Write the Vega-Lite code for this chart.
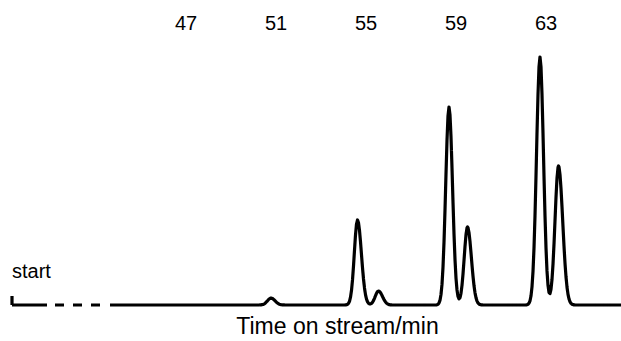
{
  "$schema": "https://vega.github.io/schema/vega-lite/v6.json",
  "width": 621,
  "height": 341,
  "padding": 0,
  "autosize": {"type": "none"},
  "background": "white",
  "config": {"view": {"stroke": null}},
  "datasets": {
    "trace": [
      {"seg":"start","t":39.2667,"v":9},{"seg":"start","t":39.2667,"v":0},{"seg":"start","t":40.8222,"v":0},
      {"seg":"dash","t":41.1778,"v":0},{"seg":"dash","t":43.1778,"v":0},
      {"seg":"main","t":43.6222,"v":0},
      {"seg":"main","t":50.2444,"v":0},{"seg":"main","t":50.3333,"v":0.12},{"seg":"main","t":50.4222,"v":0.51},{"seg":"main","t":50.5111,"v":1.61},{"seg":"main","t":50.6,"v":3.64},{"seg":"main","t":50.6889,"v":5.94},{"seg":"main","t":50.7778,"v":7},{"seg":"main","t":50.8667,"v":6.17},{"seg":"main","t":50.9556,"v":4.25},{"seg":"main","t":51.0444,"v":2.28},{"seg":"main","t":51.1333,"v":0.95},{"seg":"main","t":51.2222,"v":0.31},{"seg":"main","t":51.3111,"v":0.08},{"seg":"main","t":51.4,"v":0},
      {"seg":"main","t":54.0444,"v":0},{"seg":"main","t":54.0889,"v":0.07},{"seg":"main","t":54.1333,"v":0.23},{"seg":"main","t":54.1778,"v":0.65},{"seg":"main","t":54.2222,"v":1.63},{"seg":"main","t":54.2667,"v":3.73},{"seg":"main","t":54.3111,"v":7.77},{"seg":"main","t":54.3556,"v":14.62},{"seg":"main","t":54.4,"v":25.08},{"seg":"main","t":54.4444,"v":38.93},{"seg":"main","t":54.4889,"v":54.74},{"seg":"main","t":54.5333,"v":69.96},{"seg":"main","t":54.5778,"v":80.92},{"seg":"main","t":54.6222,"v":85},{"seg":"main","t":54.6667,"v":82.28},{"seg":"main","t":54.7111,"v":74.55},{"seg":"main","t":54.7556,"v":63.24},{"seg":"main","t":54.8,"v":50.24},{"seg":"main","t":54.8444,"v":37.4},{"seg":"main","t":54.8889,"v":26.01},{"seg":"main","t":54.9333,"v":17.0},{"seg":"main","t":54.9778,"v":10.37},{"seg":"main","t":55.0222,"v":5.94},{"seg":"main","t":55.0667,"v":3.23},{"seg":"main","t":55.1111,"v":1.73},{"seg":"main","t":55.1556,"v":1.09},{"seg":"main","t":55.2,"v":1.07},{"seg":"main","t":55.2444,"v":1.61},{"seg":"main","t":55.2889,"v":2.73},{"seg":"main","t":55.3333,"v":4.44},{"seg":"main","t":55.3778,"v":6.72},{"seg":"main","t":55.4222,"v":9.27},{"seg":"main","t":55.4667,"v":11.65},{"seg":"main","t":55.5111,"v":13.37},{"seg":"main","t":55.5556,"v":14},{"seg":"main","t":55.6,"v":13.57},{"seg":"main","t":55.6444,"v":12.35},{"seg":"main","t":55.6889,"v":10.57},{"seg":"main","t":55.7333,"v":8.5},{"seg":"main","t":55.7778,"v":6.41},{"seg":"main","t":55.8222,"v":4.55},{"seg":"main","t":55.8667,"v":3.02},{"seg":"main","t":55.9111,"v":1.89},{"seg":"main","t":55.9556,"v":1.11},{"seg":"main","t":56.0,"v":0.61},{"seg":"main","t":56.0444,"v":0.32},{"seg":"main","t":56.0889,"v":0.16},{"seg":"main","t":56.1333,"v":0.07},{"seg":"main","t":56.1778,"v":0},
      {"seg":"main","t":58.1111,"v":0},{"seg":"main","t":58.1556,"v":0.27},{"seg":"main","t":58.2,"v":0.76},{"seg":"main","t":58.2444,"v":2.0},{"seg":"main","t":58.2889,"v":4.81},{"seg":"main","t":58.3333,"v":10.49},{"seg":"main","t":58.3778,"v":20.79},{"seg":"main","t":58.4222,"v":37.82},{"seg":"main","t":58.4667,"v":62.77},{"seg":"main","t":58.5111,"v":95.04},{"seg":"main","t":58.5556,"v":131.08},{"seg":"main","t":58.6,"v":164.74},{"seg":"main","t":58.6444,"v":189.09},{"seg":"main","t":58.6889,"v":198},{"seg":"main","t":58.7333,"v":190.08},{"seg":"main","t":58.7778,"v":168.1},{"seg":"main","t":58.8222,"v":137.21},{"seg":"main","t":58.8667,"v":102.96},{"seg":"main","t":58.9111,"v":71.28},{"seg":"main","t":58.9556,"v":45.6},{"seg":"main","t":59.0,"v":26.91},{"seg":"main","t":59.0444,"v":15.02},{"seg":"main","t":59.0889,"v":8.51},{"seg":"main","t":59.1333,"v":6.18},{"seg":"main","t":59.1778,"v":7.32},{"seg":"main","t":59.2222,"v":11.76},{"seg":"main","t":59.2667,"v":19.63},{"seg":"main","t":59.3111,"v":30.78},{"seg":"main","t":59.3556,"v":44.45},{"seg":"main","t":59.4,"v":58.54},{"seg":"main","t":59.4444,"v":70.35},{"seg":"main","t":59.4889,"v":77.11},{"seg":"main","t":59.5111,"v":78},{"seg":"main","t":59.5333,"v":77.36},{"seg":"main","t":59.5778,"v":72.44},{"seg":"main","t":59.6222,"v":63.52},{"seg":"main","t":59.6667,"v":52.14},{"seg":"main","t":59.7111,"v":40.08},{"seg":"main","t":59.7556,"v":28.86},{"seg":"main","t":59.8,"v":19.43},{"seg":"main","t":59.8444,"v":12.28},{"seg":"main","t":59.8889,"v":7.25},{"seg":"main","t":59.9333,"v":4.02},{"seg":"main","t":59.9778,"v":2.08},{"seg":"main","t":60.0222,"v":1.01},{"seg":"main","t":60.0667,"v":0.46},{"seg":"main","t":60.1111,"v":0.2},{"seg":"main","t":60.1556,"v":0.08},{"seg":"main","t":60.2,"v":0},
      {"seg":"main","t":62.1111,"v":0},{"seg":"main","t":62.1556,"v":0.25},{"seg":"main","t":62.2,"v":0.69},{"seg":"main","t":62.2444,"v":1.78},{"seg":"main","t":62.2889,"v":4.19},{"seg":"main","t":62.3333,"v":9.1},{"seg":"main","t":62.3778,"v":18.2},{"seg":"main","t":62.4222,"v":33.48},{"seg":"main","t":62.4667,"v":57.04},{"seg":"main","t":62.5111,"v":89.28},{"seg":"main","t":62.5556,"v":128.96},{"seg":"main","t":62.6,"v":171.86},{"seg":"main","t":62.6444,"v":210.55},{"seg":"main","t":62.6889,"v":238.08},{"seg":"main","t":62.7333,"v":248},{"seg":"main","t":62.7778,"v":238.08},{"seg":"main","t":62.8222,"v":210.55},{"seg":"main","t":62.8667,"v":171.86},{"seg":"main","t":62.9111,"v":128.96},{"seg":"main","t":62.9556,"v":89.36},{"seg":"main","t":63.0,"v":57.28},{"seg":"main","t":63.0444,"v":34.11},{"seg":"main","t":63.0889,"v":19.74},{"seg":"main","t":63.1333,"v":12.59},{"seg":"main","t":63.1778,"v":11.47},{"seg":"main","t":63.2222,"v":15.78},{"seg":"main","t":63.2667,"v":25.47},{"seg":"main","t":63.3111,"v":40.69},{"seg":"main","t":63.3556,"v":60.83},{"seg":"main","t":63.4,"v":84.31},{"seg":"main","t":63.4444,"v":107.7},{"seg":"main","t":63.4889,"v":126.81},{"seg":"main","t":63.5333,"v":137.58},{"seg":"main","t":63.5556,"v":139},{"seg":"main","t":63.5778,"v":138.01},{"seg":"main","t":63.6222,"v":130.41},{"seg":"main","t":63.6667,"v":116.43},{"seg":"main","t":63.7111,"v":98.23},{"seg":"main","t":63.7556,"v":78.3},{"seg":"main","t":63.8,"v":58.98},{"seg":"main","t":63.8444,"v":41.96},{"seg":"main","t":63.8889,"v":28.23},{"seg":"main","t":63.9333,"v":17.93},{"seg":"main","t":63.9778,"v":10.76},{"seg":"main","t":64.0222,"v":6.1},{"seg":"main","t":64.0667,"v":3.27},{"seg":"main","t":64.1111,"v":1.66},{"seg":"main","t":64.1556,"v":0.79},{"seg":"main","t":64.2,"v":0.36},{"seg":"main","t":64.2444,"v":0.15},{"seg":"main","t":64.2889,"v":0.06},{"seg":"main","t":64.3333,"v":0},
      {"seg":"main","t":66.3333,"v":0}
    ],
    "ticks": [{"label": 47}, {"label": 51}, {"label": 55}, {"label": 59}, {"label": 63}]
  },
  "layer": [
    {
      "data": {"name": "trace"},
      "mark": {"type": "line", "color": "#000000", "strokeWidth": 3.2, "strokeJoin": "round", "strokeCap": "butt"},
      "encoding": {
        "x": {"field": "t", "type": "quantitative", "scale": {"domain": [38.7333, 66.3333], "nice": false, "zero": false}, "axis": null},
        "y": {"field": "v", "type": "quantitative", "scale": {"domain": [-36, 305], "nice": false, "zero": false}, "axis": null},
        "strokeDash": {"field": "seg", "type": "nominal", "scale": {"domain": ["start", "dash", "main"], "range": [[1, 0], [9, 9], [1, 0]]}, "legend": null},
        "order": {"value": null}
      }
    },
    {
      "data": {"name": "ticks"},
      "mark": {"type": "text", "font": "Liberation Sans", "fontSize": 20, "color": "#000000", "align": "center", "baseline": "alphabetic"},
      "encoding": {
        "x": {"field": "label", "type": "quantitative"},
        "y": {"datum": 275.5},
        "text": {"field": "label", "type": "nominal"}
      }
    },
    {
      "data": {"values": [{"text": "start"}]},
      "mark": {"type": "text", "font": "Liberation Sans", "fontSize": 20, "color": "#000000", "align": "left", "baseline": "alphabetic"},
      "encoding": {
        "x": {"datum": 39.2667},
        "y": {"datum": 27},
        "text": {"field": "text", "type": "nominal"}
      }
    },
    {
      "data": {"values": [{"text": "Time on stream/min"}]},
      "mark": {"type": "text", "font": "Liberation Sans", "fontSize": 23, "color": "#000000", "align": "center", "baseline": "alphabetic"},
      "encoding": {
        "x": {"datum": 53.7333},
        "y": {"datum": -29},
        "text": {"field": "text", "type": "nominal"}
      }
    }
  ]
}
